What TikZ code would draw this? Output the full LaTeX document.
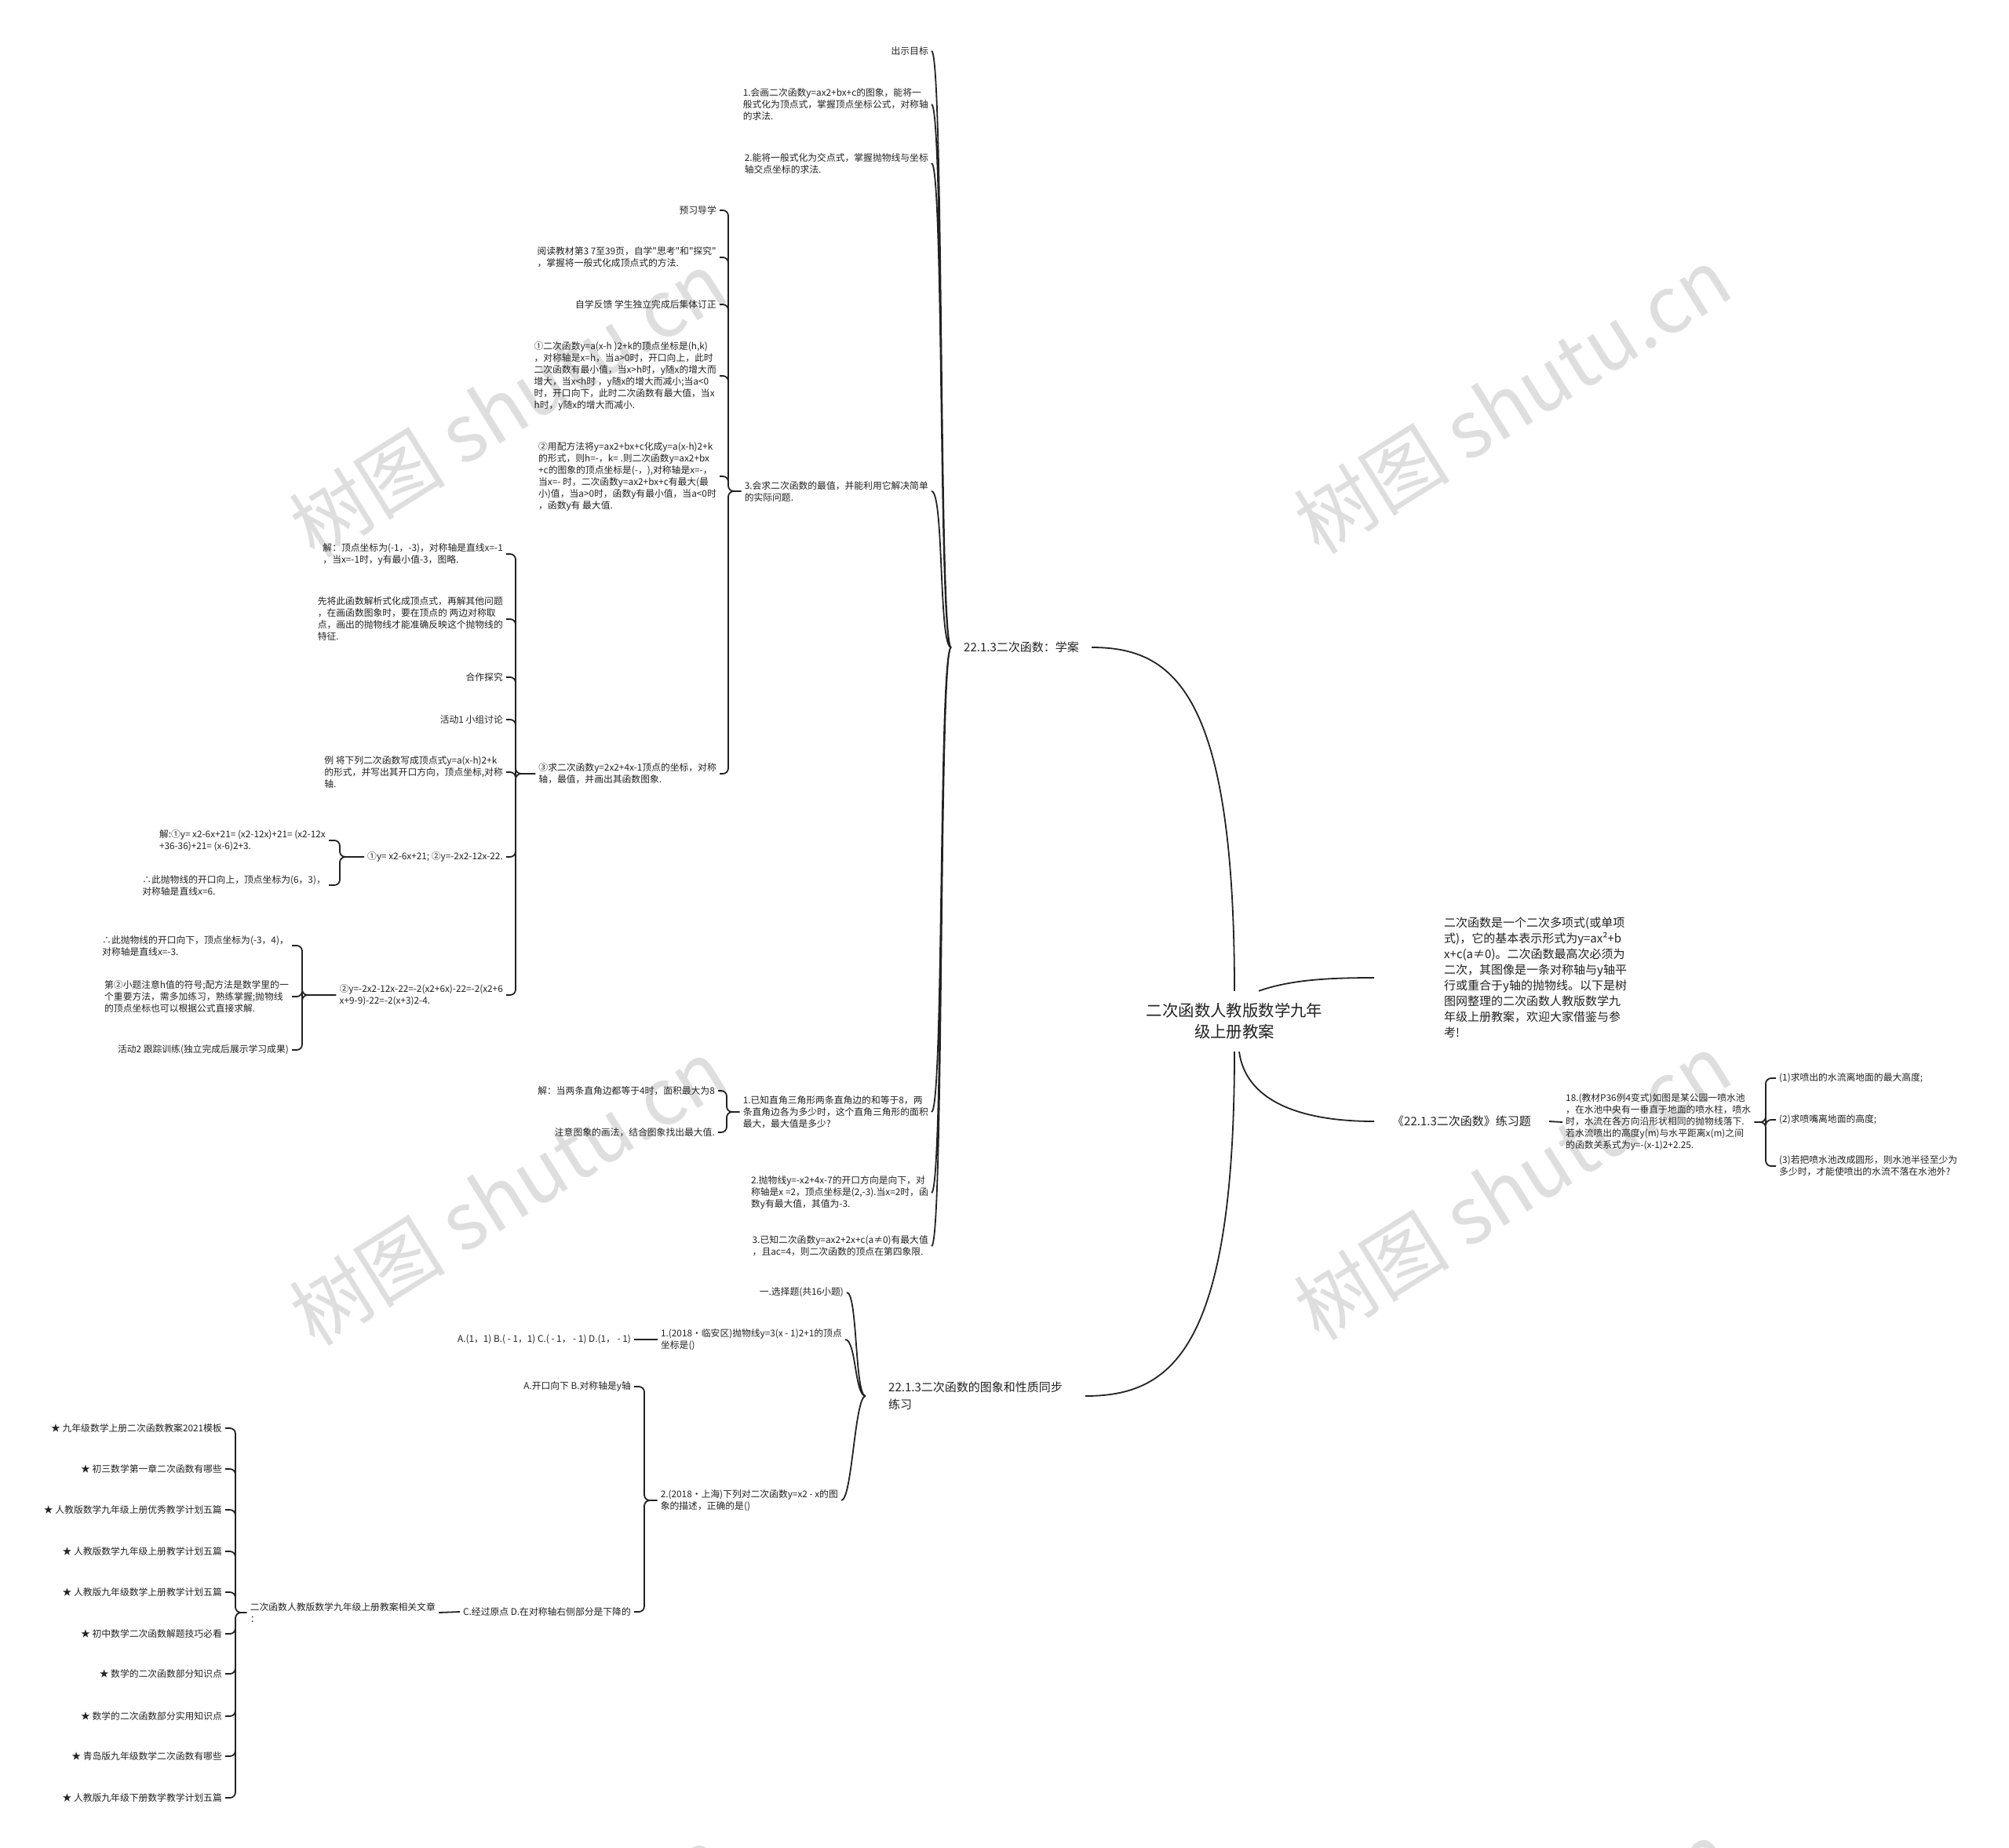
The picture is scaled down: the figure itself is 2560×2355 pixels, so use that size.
\documentclass[tikz,border=0pt]{standalone}
\usepackage{fontspec}
\setmainfont{Noto Sans CJK SC}
\definecolor{inkblack}{RGB}{34,34,34}
\definecolor{markgray}{RGB}{222,222,222}

\begin{document}
\begin{tikzpicture}[x=1pt, y=-1pt,
    leaf/.style={font=\fontsize{11.8}{15}\selectfont, align=left, inner xsep=4pt, inner ysep=2pt, text=inkblack},
    branch/.style={font=\fontsize{15}{22}\selectfont, align=left, inner ysep=3pt, text=inkblack},
    curvelink/.style={draw=inkblack, line width=1.8pt},
    bracelink/.style={draw=inkblack, line width=1.8pt, rounded corners=7pt},
    watermark/.style={font=\fontsize{100}{100}\selectfont, text=markgray, rotate=32}]
        \useasboundingbox (0,0) rectangle (2560,2355);
        \fill[white] (0,0) rectangle (2560,2355);

        % Watermarks
        \begin{scope}
            \clip (0,0) rectangle (2560,2355);
            \node[watermark] (wm1) at (647,515) {树图 shutu.cn};
            \node[watermark] (wm2) at (1927,510) {树图 shutu.cn};
            \node[watermark] (wm3) at (647,1519) {树图 shutu.cn};
            \node[watermark] (wm4) at (1927,1512) {树图 shutu.cn};
            \node[watermark] (wm5) at (647,2523) {树图 shutu.cn};
            \node[watermark] (wm6) at (1927,2516) {树图 shutu.cn};
        \end{scope}

        % Root and main branches
        \node[font=\fontsize{20.4}{27}\selectfont, align=center, minimum height=77pt, inner xsep=6pt, text=inkblack] (root) at (1573,1301.5) {二次函数人教版数学九年\\级上册教案};
        \node[branch, anchor=west, inner xsep=16pt] (plan) at (1212,825) {22.1.3二次函数：学案};
        \node[branch, anchor=west, inner xsep=29pt] (sync) at (1103,1779) {22.1.3二次函数的图象和性质同步\\练习};
        \node[branch, anchor=west, inner xsep=23pt] (drill) at (1751,1429) {《22.1.3二次函数》练习题};
        \node[font=\fontsize{15}{20}\selectfont, align=left, anchor=west, inner xsep=89pt, text=inkblack] (intro) at (1751,1246) {二次函数是一个二次多项式(或单项\\式)，它的基本表示形式为y=ax²+b\\x+c(a≠0)。二次函数最高次必须为\\二次，其图像是一条对称轴与y轴平\\行或重合于y轴的抛物线。以下是树\\图网整理的二次函数人教版数学九\\年级上册教案，欢迎大家借鉴与参\\考!};

        \draw[curvelink] (root.north) .. controls +(0,-380) and +(105,0) .. (plan.east);
        \draw[curvelink] (root.south) .. controls +(0,380) and +(110,0) .. (sync.east);
        \draw[curvelink] ([xshift=31]root.north) .. controls +(40,-14) and +(-60,0) .. (intro.west);
        \draw[curvelink] ([xshift=6]root.south) .. controls +(8,60) and +(-100,0) .. (drill.west);

        % Lesson plan: first level
        \node[leaf, anchor=east] (goal) at (1187,65) {出示目标};
        \node[leaf, anchor=east] (aim1) at (1187,133) {1.会画二次函数y=ax2+bx+c的图象，能将一\\般式化为顶点式，掌握顶点坐标公式，对称轴\\的求法.};
        \node[leaf, anchor=east] (aim2) at (1187,208) {2.能将一般式化为交点式，掌握抛物线与坐标\\轴交点坐标的求法.};
        \node[leaf, anchor=east] (aim3) at (1187,626) {3.会求二次函数的最值，并能利用它解决简单\\的实际问题.};
        \node[leaf, anchor=east] (ex1) at (1187,1417) {1.已知直角三角形两条直角边的和等于8，两\\条直角边各为多少时，这个直角三角形的面积\\最大，最大值是多少?};
        \node[leaf, anchor=east] (ex2) at (1187,1520) {2.抛物线y=-x2+4x-7的开口方向是向下，对\\称轴是x =2，顶点坐标是(2,-3).当x=2时，函\\数y有最大值，其值为-3.};
        \node[leaf, anchor=east] (ex3) at (1187,1588) {3.已知二次函数y=ax2+2x+c(a≠0)有最大值\\，且ac=4，则二次函数的顶点在第四象限.};

        \draw[curvelink] (plan.west) .. controls +(-16,0) and +(16,0) .. (goal.east)
            (plan.west) .. controls +(-16,0) and +(16,0) .. (aim1.east)
            (plan.west) .. controls +(-16,0) and +(16,0) .. (aim2.east)
            (plan.west) .. controls +(-16,0) and +(16,0) .. (aim3.east)
            (plan.west) .. controls +(-16,0) and +(16,0) .. (ex1.east)
            (plan.west) .. controls +(-16,0) and +(16,0) .. (ex2.east)
            (plan.west) .. controls +(-16,0) and +(16,0) .. (ex3.east);

        % Lesson plan: under aim 3
        \node[leaf, anchor=east] (pre) at (917,268) {预习导学};
        \node[leaf, anchor=east] (read) at (917,328) {阅读教材第3 7至39页，自学\textquotedbl 思考\textquotedbl 和\textquotedbl 探究\textquotedbl\\，掌握将一般式化成顶点式的方法.};
        \node[leaf, anchor=east] (feedback) at (917,388) {自学反馈 学生独立完成后集体订正};
        \node[leaf, anchor=east] (prop1) at (917,479) {①二次函数y=a(x-h )2+k的顶点坐标是(h,k)\\，对称轴是x=h，当a>0时，开口向上，此时\\二次函数有最小值，当x>h时，y随x的增大而\\增大，当x<h时 ，y随x的增大而减小;当a<0\\时，开口向下，此时二次函数有最大值，当x\\h时，y随x的增大而减小.};
        \node[leaf, anchor=east] (prop2) at (917,607) {②用配方法将y=ax2+bx+c化成y=a(x-h)2+k\\的形式，则h=-，k= .则二次函数y=ax2+bx\\+c的图象的顶点坐标是(-，),对称轴是x=-，\\当x=- 时，二次函数y=ax2+bx+c有最大(最\\小)值，当a>0时，函数y有最小值，当a<0时\\，函数y有 最大值.};
        \node[leaf, anchor=east] (task3) at (917,986) {③求二次函数y=2x2+4x-1顶点的坐标，对称\\轴，最值，并画出其函数图象.};

        \draw[bracelink] (aim3.west) -| ([xshift=11]pre.east) -- (pre.east)
            (aim3.west) -| ([xshift=11]read.east) -- (read.east)
            (aim3.west) -| ([xshift=11]feedback.east) -- (feedback.east)
            (aim3.west) -| ([xshift=11]prop1.east) -- (prop1.east)
            (aim3.west) -| ([xshift=11]prop2.east) -- (prop2.east)
            (aim3.west) -| ([xshift=11]task3.east) -- (task3.east);

        % Lesson plan: under task 3
        \node[leaf, anchor=east] (sol3) at (645,706) {解：顶点坐标为(-1，-3)，对称轴是直线x=-1\\，当x=-1时，y有最小值-3，图略.};
        \node[leaf, anchor=east] (hint3) at (645,789) {先将此函数解析式化成顶点式，再解其他问题\\，在画函数图象时，要在顶点的 两边对称取\\点，画出的抛物线才能准确反映这个抛物线的\\特征.};
        \node[leaf, anchor=east] (coop) at (645,863) {合作探究};
        \node[leaf, anchor=east] (act1) at (645,917) {活动1 小组讨论};
        \node[leaf, anchor=east] (example) at (645,984) {例 将下列二次函数写成顶点式y=a(x-h)2+k\\的形式，并写出其开口方向，顶点坐标,对称\\轴.};
        \node[leaf, anchor=east] (pair) at (645,1092) {①y= x2-6x+21; ②y=-2x2-12x-22.};
        \node[leaf, anchor=east] (second) at (645,1268) {②y=-2x2-12x-22=-2(x2+6x)-22=-2(x2+6\\x+9-9)-22=-2(x+3)2-4.};

        \draw[bracelink] (task3.west) -| ([xshift=12]sol3.east) -- (sol3.east)
            (task3.west) -| ([xshift=12]hint3.east) -- (hint3.east)
            (task3.west) -| ([xshift=12]coop.east) -- (coop.east)
            (task3.west) -| ([xshift=12]act1.east) -- (act1.east)
            (task3.west) -| ([xshift=12]example.east) -- (example.east)
            (task3.west) -| ([xshift=12]pair.east) -- (pair.east)
            (task3.west) -| ([xshift=12]second.east) -- (second.east);

        % Worked solutions
        \node[leaf, anchor=east] (sol1) at (419,1071) {解:①y= x2-6x+21= (x2-12x)+21= (x2-12x\\+36-36)+21= (x-6)2+3.};
        \node[leaf, anchor=east] (up1) at (419,1128) {∴此抛物线的开口向上，顶点坐标为(6，3)，\\对称轴是直线x=6.};
        \draw[bracelink] (pair.west) -| ([xshift=14]sol1.east) -- (sol1.east)
            (pair.west) -| ([xshift=14]up1.east) -- (up1.east);

        \node[leaf, anchor=east] (down2) at (372,1205) {∴此抛物线的开口向下，顶点坐标为(-3，4)，\\对称轴是直线x=-3.};
        \node[leaf, anchor=east] (note2) at (372,1270) {第②小题注意h值的符号;配方法是数学里的一\\个重要方法，需多加练习，熟练掌握;抛物线\\的顶点坐标也可以根据公式直接求解.};
        \node[leaf, anchor=east] (act2) at (372,1338) {活动2 跟踪训练(独立完成后展示学习成果)};
        \draw[bracelink] (second.west) -| ([xshift=13]down2.east) -- (down2.east)
            (second.west) -| ([xshift=13]note2.east) -- (note2.east)
            (second.west) -| ([xshift=13]act2.east) -- (act2.east);

        \node[leaf, anchor=east] (ans1) at (915,1390) {解：当两条直角边都等于4时，面积最大为8};
        \node[leaf, anchor=east] (tip1) at (915,1443) {注意图象的画法，结合图象找出最大值.};
        \draw[bracelink] (ex1.west) -| ([xshift=11]ans1.east) -- (ans1.east)
            (ex1.west) -| ([xshift=11]tip1.east) -- (tip1.east);

        % Synchronous practice
        \node[leaf, anchor=east] (choice) at (1079,1647) {一.选择题(共16小题)};
        \node[leaf, anchor=east] (q1) at (1077,1707) {1.(2018•临安区)抛物线y=3(x - 1)2+1的顶点\\坐标是()};
        \node[leaf, anchor=east] (q2) at (1072,1912) {2.(2018•上海)下列对二次函数y=x2 - x的图\\象的描述，正确的是()};
        \draw[curvelink] (sync.west) .. controls +(-14,0) and +(14,0) .. (choice.east)
            (sync.west) .. controls +(-14,0) and +(14,0) .. (q1.east)
            (sync.west) .. controls +(-14,0) and +(14,0) .. (q2.east);

        \node[leaf, anchor=east] (opts1) at (808,1707) {A.(1，1) B.( - 1，1) C.( - 1， - 1) D.(1， - 1)};
        \draw[curvelink] (q1.west) -- (opts1.east);

        \node[leaf, anchor=east] (optsAB) at (808,1767) {A.开口向下 B.对称轴是y轴};
        \node[leaf, anchor=east] (optsCD) at (808,2054) {C.经过原点 D.在对称轴右侧部分是下降的};
        \draw[bracelink] (q2.west) -| ([xshift=13]optsAB.east) -- (optsAB.east)
            (q2.west) -| ([xshift=13]optsCD.east) -- (optsCD.east);

        % Related articles
        \node[leaf, anchor=east] (related) at (559,2055) {二次函数人教版数学九年级上册教案相关文章\\：};
        \draw[curvelink] (optsCD.west) -- (related.east);

        \node[leaf, anchor=east] (star1) at (287,1820) {★ 九年级数学上册二次函数教案2021模板};
        \node[leaf, anchor=east] (star2) at (287,1872) {★ 初三数学第一章二次函数有哪些};
        \node[leaf, anchor=east] (star3) at (287,1924) {★ 人教版数学九年级上册优秀教学计划五篇};
        \node[leaf, anchor=east] (star4) at (287,1977) {★ 人教版数学九年级上册教学计划五篇};
        \node[leaf, anchor=east] (star5) at (287,2029) {★ 人教版九年级数学上册教学计划五篇};
        \node[leaf, anchor=east] (star6) at (287,2082) {★ 初中数学二次函数解题技巧必看};
        \node[leaf, anchor=east] (star7) at (287,2133) {★ 数学的二次函数部分知识点};
        \node[leaf, anchor=east] (star8) at (287,2187) {★ 数学的二次函数部分实用知识点};
        \node[leaf, anchor=east] (star9) at (287,2238) {★ 青岛版九年级数学二次函数有哪些};
        \node[leaf, anchor=east] (star10) at (287,2291) {★ 人教版九年级下册数学教学计划五篇};
        \draw[bracelink] (related.west) -| ([xshift=13]star1.east) -- (star1.east)
            (related.west) -| ([xshift=13]star2.east) -- (star2.east)
            (related.west) -| ([xshift=13]star3.east) -- (star3.east)
            (related.west) -| ([xshift=13]star4.east) -- (star4.east)
            (related.west) -| ([xshift=13]star5.east) -- (star5.east)
            (related.west) -| ([xshift=13]star6.east) -- (star6.east)
            (related.west) -| ([xshift=13]star7.east) -- (star7.east)
            (related.west) -| ([xshift=13]star8.east) -- (star8.east)
            (related.west) -| ([xshift=13]star9.east) -- (star9.east)
            (related.west) -| ([xshift=13]star10.east) -- (star10.east);

        % Exercise: fountain problem
        \node[leaf, anchor=west] (fountain) at (1991,1430) {18.(教材P36例4变式)如图是某公园一喷水池\\，在水池中央有一垂直于地面的喷水柱，喷水\\时，水流在各方向沿形状相同的抛物线落下.\\若水流喷出的高度y(m)与水平距离x(m)之间\\的函数关系式为y=-(x-1)2+2.25.};
        \draw[curvelink] (drill.east) -- (fountain.west);

        \node[leaf, anchor=west] (ask1) at (2263,1374) {(1)求喷出的水流离地面的最大高度;};
        \node[leaf, anchor=west] (ask2) at (2263,1427) {(2)求喷嘴离地面的高度;};
        \node[leaf, anchor=west] (ask3) at (2263,1486) {(3)若把喷水池改成圆形，则水池半径至少为\\多少时，才能使喷出的水流不落在水池外?};
        \draw[bracelink] (fountain.east) -| ([xshift=-13]ask1.west) -- (ask1.west)
            (fountain.east) -| ([xshift=-13]ask2.west) -- (ask2.west)
            (fountain.east) -| ([xshift=-13]ask3.west) -- (ask3.west);
    \end{tikzpicture}
\end{document}
